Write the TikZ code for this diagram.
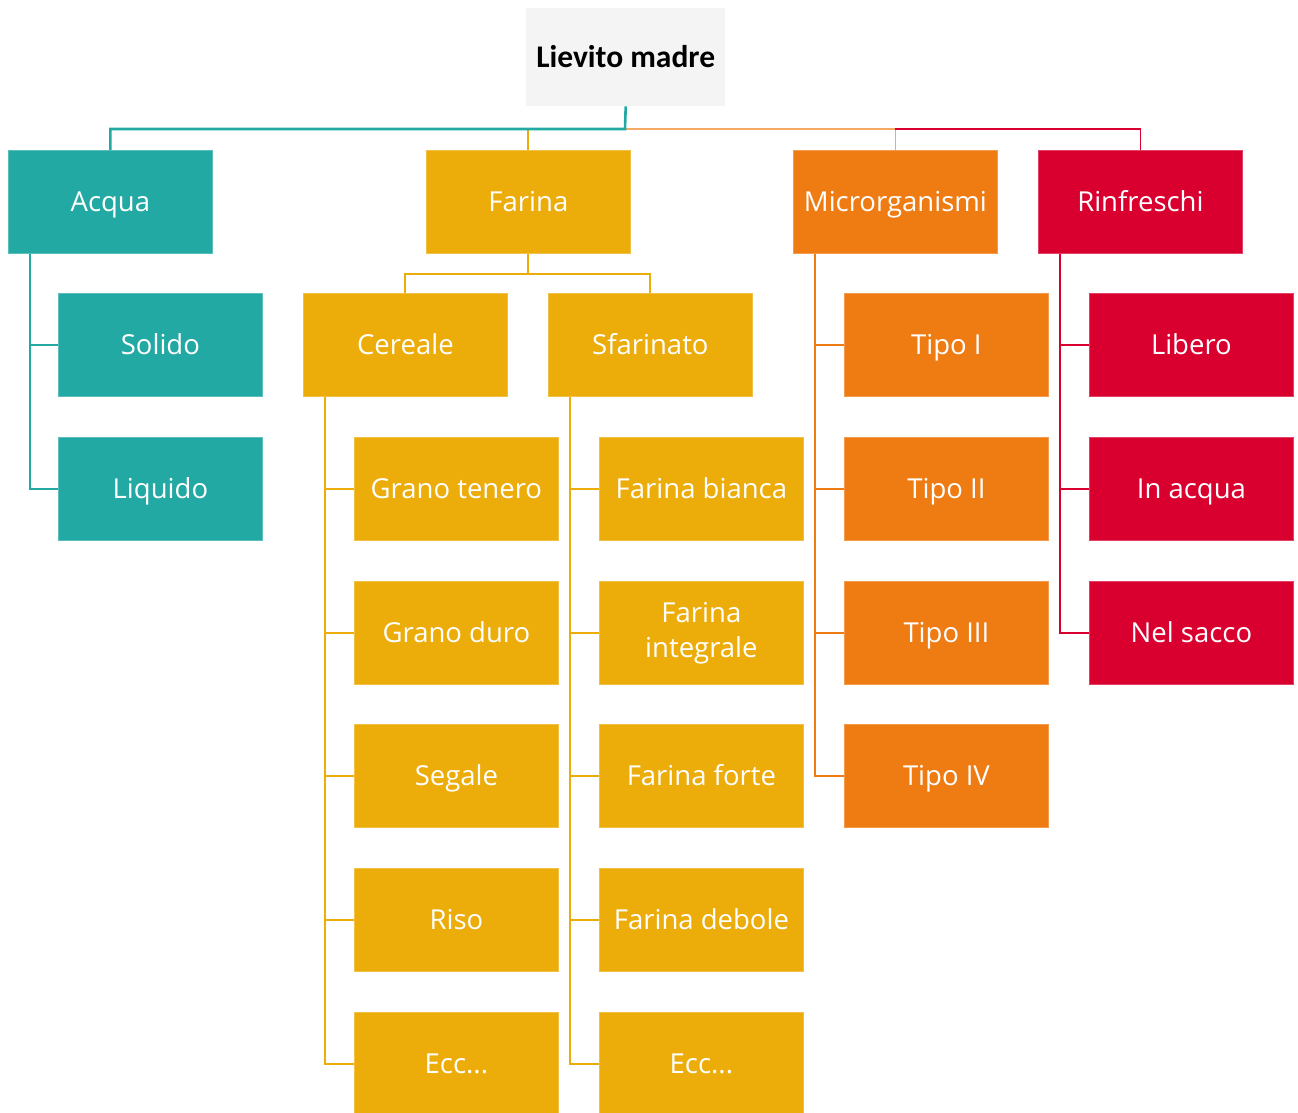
\documentclass[tikz,border=0pt]{standalone}
\usepackage{fontspec}
\setmainfont{Open Sans}
\newfontfamily\rootfont{Carlito}
\definecolor{cteal}{HTML}{23A9A4}
\definecolor{cyel}{HTML}{ECAC0A}
\definecolor{cora}{HTML}{EF7B13}
\definecolor{cred}{HTML}{D90030}
\definecolor{cgray}{HTML}{F4F4F4}
\begin{document}
\begin{tikzpicture}[x=1pt,y=-1pt,
  box/.style={fill=#1, draw=#1!75!white, line width=0.8pt, minimum width=204pt, minimum height=103pt,
    inner sep=0pt, text=white, font=\fontsize{27.5}{35}\selectfont, text height=19.6pt, text depth=0pt, anchor=north west},
  conn/.style={draw=#1, line width=2pt},
]
\useasboundingbox (0,0) rectangle (1298,1113);
% root
\node[fill=cgray, minimum width=199pt, minimum height=98pt, inner sep=0pt, anchor=north west,
  font=\rootfont\bfseries\fontsize{31.5}{36}\selectfont, text height=20.3pt, text depth=0pt] (root) at (526,8) {Lievito madre};
% level 1
\node[box=cteal] (acqua) at (8,150) {Acqua};
\node[box=cyel] (farina) at (426,150) {Farina};
\node[box=cora] (micro) at (793,150) {Microrganismi};
\node[box=cred] (rinf) at (1038,150) {Rinfreschi};
% acqua children
\node[box=cteal] (solido) at (58,293) {Solido};
\node[box=cteal] (liquido) at (58,437) {Liquido};
% farina children
\node[box=cyel] (cereale) at (303,293) {Cereale};
\node[box=cyel] (sfar) at (548,293) {Sfarinato};
\node[box=cyel] (gt) at (354,437) {Grano tenero};
\node[box=cyel] (gd) at (354,581) {Grano duro};
\node[box=cyel] (seg) at (354,724) {Segale};
\node[box=cyel] (riso) at (354,868) {Riso};
\node[box=cyel] (ecc1) at (354,1012) {Ecc...};
\node[box=cyel] (fb) at (599,437) {Farina bianca};
\node[box=cyel, align=center, text height=, text depth=] (fi) at (599,581) {Farina\\integrale};
\node[box=cyel] (ff) at (599,724) {Farina forte};
\node[box=cyel] (fd) at (599,868) {Farina debole};
\node[box=cyel] (ecc2) at (599,1012) {Ecc...};
% micro children
\node[box=cora] (t1) at (844,293) {Tipo I};
\node[box=cora] (t2) at (844,437) {Tipo II};
\node[box=cora] (t3) at (844,581) {Tipo III};
\node[box=cora] (t4) at (844,724) {Tipo IV};
% rinfreschi children
\node[box=cred] (lib) at (1089,293) {Libero};
\node[box=cred] (inacq) at (1089,437) {In acqua};
\node[box=cred] (nels) at (1089,581) {Nel sacco};

% top bus
\coordinate (bus) at (625,129);
\draw[conn=cora!65!white, line width=1.5pt] (bus) -| (micro.north);
\draw[conn=cred, line width=1.5pt] (bus -| micro.north) -| (rinf.north);
\draw[conn=cyel] (bus -| farina.north) -- (farina.north);
\draw[conn=cteal, line width=2.6pt] (root.south) -- (bus) -| (acqua.north);

% acqua
\coordinate (av) at ([xshift=22pt]acqua.south west);
\draw[conn=cteal] (av) |- (solido.west);
\draw[conn=cteal] (av) |- (liquido.west);
% farina
\coordinate (fbus) at ([yshift=-20pt]farina.south);
\draw[conn=cyel] (farina.south) -- (fbus);
\draw[conn=cyel] (cereale.north) |- (fbus) -| (sfar.north);
% cereale
\coordinate (cv) at ([xshift=22pt]cereale.south west);
\foreach \n in {gt,gd,seg,riso,ecc1} \draw[conn=cyel] (cv) |- (\n.west);
\coordinate (sv) at ([xshift=22pt]sfar.south west);
\foreach \n in {fb,fi,ff,fd,ecc2} \draw[conn=cyel] (sv) |- (\n.west);
% micro
\coordinate (mv) at ([xshift=22pt]micro.south west);
\foreach \n in {t1,t2,t3,t4} \draw[conn=cora] (mv) |- (\n.west);
% rinfreschi
\coordinate (rv) at ([xshift=22pt]rinf.south west);
\foreach \n in {lib,inacq,nels} \draw[conn=cred] (rv) |- (\n.west);
\end{tikzpicture}
\end{document}
